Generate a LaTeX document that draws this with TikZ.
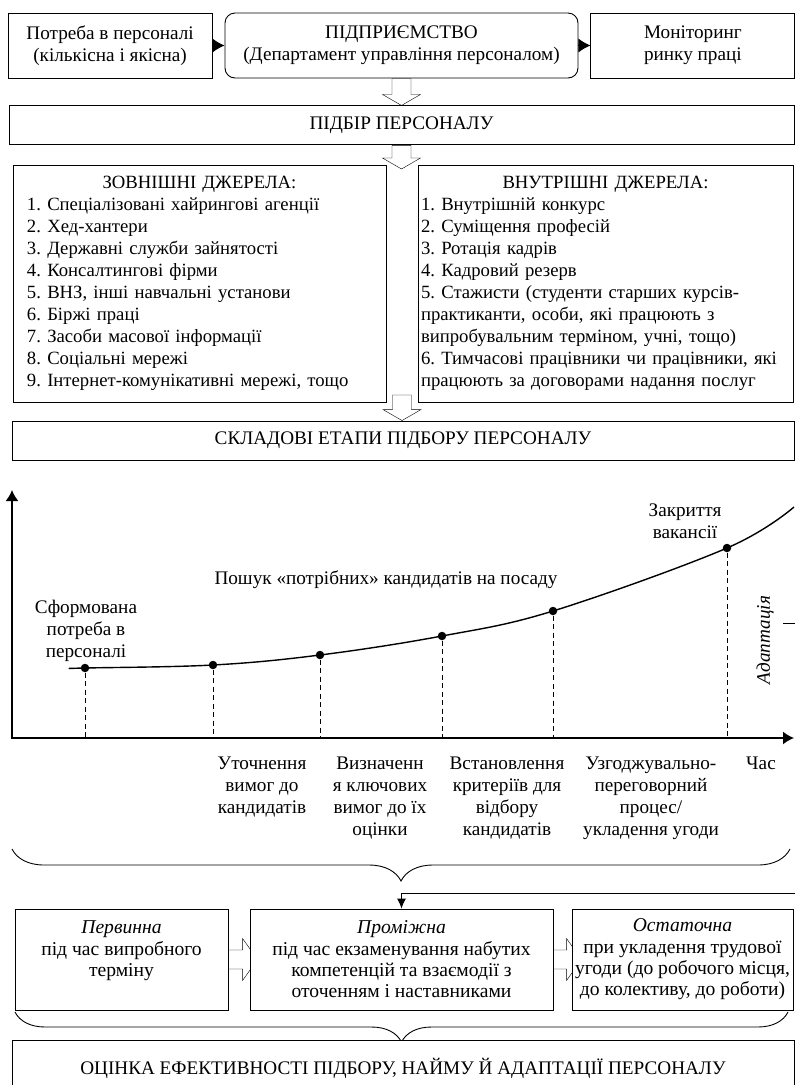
\documentclass[tikz,border=0pt]{standalone}
\usepackage{fontspec}
\setmainfont{Liberation Serif}
\usetikzlibrary{positioning}
\usetikzlibrary{arrows.meta, calc, backgrounds, decorations.pathreplacing}

\tikzset{
    txt/.style={font=\fontsize{19.2}{22}\selectfont, align=center, inner sep=0pt},
    box/.style={txt, draw, fill=white},
    listbox/.style={box, font=\fontsize{18.7}{22}\selectfont, align=left, minimum height=237pt},
    phasebox/.style={box, font=\fontsize{19.6}{21.3}\selectfont, minimum height=101pt},
    stagedot/.style={circle, fill=black, minimum size=8.5pt, inner sep=0pt},
    hollowarrow/.style={draw, fill=white},
}

\newcommand{\vhollow}[2]{%
    \draw[hollowarrow] let \p1=(#1), \p2=(#2) in
        (\x1-9.5pt,\y1) -- (\x1-9.5pt,\y2+11pt) -- (\x1-19pt,\y2+11pt) -- (\x1,\y2)
        -- (\x1+19pt,\y2+11pt) -- (\x1+9.5pt,\y2+11pt) -- (\x1+9.5pt,\y1) -- cycle;}
\newcommand{\hhollow}[2]{%
    \draw[hollowarrow] let \p1=(#1), \p2=(#2) in
        (\x1,\y1+9.5pt) -- (\x2-15pt,\y1+9.5pt) -- (\x2-15pt,\y1+21pt) -- (\x2,\y1)
        -- (\x2-15pt,\y1-21pt) -- (\x2-15pt,\y1-9.5pt) -- (\x1,\y1-9.5pt) -- cycle;}
\newcommand{\listhead}[1]{\makebox[\hsize]{#1}}

\begin{document}
\frenchspacing
\begin{tikzpicture}[x=1pt, y=-1pt, line width=0.9pt]
    \useasboundingbox (0,0) rectangle (795,1085);

    % Nodes
    \node[box, rounded corners=10pt, minimum width=353pt, minimum height=65pt] 
        (firm) at (401.5,45.5) {ПІДПРИЄМСТВО \\ (Департамент управління персоналом)};
    \node[box, minimum width=204pt, minimum height=65pt, left=12pt of firm] 
        (need) {Потреба в персоналі \\ (кількісна і якісна)};
    \node[box, minimum width=204pt, minimum height=65pt, right=12pt of firm] 
        (market) {Моніторинг \\ ринку праці};
    \node[box, minimum width=785pt, minimum height=39pt, below=27pt of firm] 
        (select) {ПІДБІР ПЕРСОНАЛУ};

    \node[listbox, text width=345pt, inner xsep=14pt] 
        (outer) at (199.5,283.5) {\listhead{ЗОВНІШНІ ДЖЕРЕЛА:}\\
        1. Спеціалізовані хайрингові агенції\\
        2. Хед-хантери\\
        3. Державні служби зайнятості\\
        4. Консалтингові фірми\\
        5. ВНЗ, інші навчальні установи\\
        6. Біржі праці\\
        7. Засоби масової інформації\\
        8. Соціальні мережі\\
        9. Інтернет-комунікативні мережі, тощо};
    \node[listbox, text width=369pt, inner xsep=3pt] 
        (inner) at (605.5,283.5) {\listhead{ВНУТРІШНІ ДЖЕРЕЛА:}\\
        1. Внутрішній конкурс\\
        2. Суміщення професій\\
        3. Ротація кадрів\\
        4. Кадровий резерв\\
        5. Стажисти (студенти старших курсів-\\
        практиканти, особи, які працюють з\\
        випробувальним терміном, учні, тощо)\\
        6. Тимчасові працівники чи працівники, які\\
        працюють за договорами надання послуг};
    \coordinate (gaptop) at (402,169);
    \coordinate (gapbot) at (402,395);

    \node[box, minimum width=782pt, minimum height=39pt] 
        (stages) at (403,440.5) {СКЛАДОВІ ЕТАПИ ПІДБОРУ ПЕРСОНАЛУ};

    % Graph
    \coordinate (origin) at (12,738);
    \coordinate (ytop) at (12,490);
    \coordinate (xend) at (794,738);
    \draw[line width=1.6pt, {Latex[length=11pt,width=13pt]}-{Latex[length=11pt,width=13pt]}] 
        (ytop) -- (origin) -- (xend);

    \node[stagedot] (d1) at (85,668) {};
    \node[stagedot] (d2) at (213,665) {};
    \node[stagedot] (d3) at (320,655) {};
    \node[stagedot] (d4) at (442,636) {};
    \node[stagedot] (d5) at (553,611) {};
    \node[stagedot] (d6) at (727,548) {};
    \draw[line width=1.4pt] plot[smooth, tension=0.6] coordinates 
        {(70,668.5) (d1.center) (d2.center) (d3.center) (d4.center) (d5.center) (d6.center) (794,507)};
    \foreach \i in {1,...,6}
        \draw[line width=0.8pt, dash pattern=on 5pt off 3.5pt] (d\i) -- (d\i |- origin);

    \node[txt] (formed) at (86,631) {Сформована\\потреба в\\персоналі};
    \node[txt] (search) at (386,580) {Пошук «потрібних» кандидатів на посаду};
    \node[txt] (close) at (685,521) {Закриття\\вакансії};
    \node[txt, font=\fontsize{19.2}{22}\selectfont\itshape, rotate=90] 
        (adapt) at (765,640) {Адаптація};
    \coordinate (adaptend) at (783,623);

    \node[txt, anchor=north] (clarify) at (262,756) {Уточнення\\вимог до\\кандидатів};
    \node[txt, anchor=north] (define) at (380,756) {Визначенн\\я ключових\\вимог до їх\\оцінки};
    \node[txt, anchor=north] (criteria) at (507,756) {Встановлення\\критеріїв для\\відбору\\кандидатів};
    \node[txt, anchor=north] (deal) at (651,756) {Узгоджувально-\\переговорний\\процес/\\укладення угоди};
    \node[txt, anchor=north] (time) at (761,756) {Час};

    \draw[decorate, decoration={brace, mirror, amplitude=32pt}] (12,849) -- (790,849);

    \node[phasebox, minimum width=213pt] 
        (first) at (121.5,959.5) {\textit{Первинна}\\під час випробного\\терміну\\\mbox{}};
    \node[phasebox, minimum width=303pt] 
        (mid) at (401.5,959.5) {\textit{Проміжна}\\під час екзаменування набутих\\компетенцій та взаємодії з\\оточенням і наставниками};
    \node[phasebox, minimum width=221pt] 
        (last) at (682.5,959.5) {\textit{Остаточна}\\при укладення трудової\\угоди (до робочого місця,\\до колективу, до роботи)};

    \draw[decorate, decoration={brace, mirror, amplitude=30pt}] (15,1012) -- (788,1012);

    \node[box, minimum width=782pt, minimum height=56pt] 
        (total) at (403,1068) {ОЦІНКА ЕФЕКТИВНОСТІ ПІДБОРУ, НАЙМУ Й АДАПТАЦІЇ ПЕРСОНАЛУ};

    % Arrows
    \draw[-{Latex[length=12pt,width=14pt]}] (need) -- (firm);
    \draw[-{Latex[length=12pt,width=14pt]}] (firm) -- (market);
    \draw[-{Latex[length=10pt,width=9pt]}] (adaptend) -- (805,623) -- (805,893) -| (mid.north);

    \begin{scope}[on background layer]
        \vhollow{firm.south}{select.north}
        \vhollow{select.south}{gaptop}
        \vhollow{gapbot}{stages.north}
        \hhollow{first.east}{[xshift=8pt]mid.west}
        \hhollow{mid.east}{[xshift=10pt]last.west}
    \end{scope}
\end{tikzpicture}
\end{document}
